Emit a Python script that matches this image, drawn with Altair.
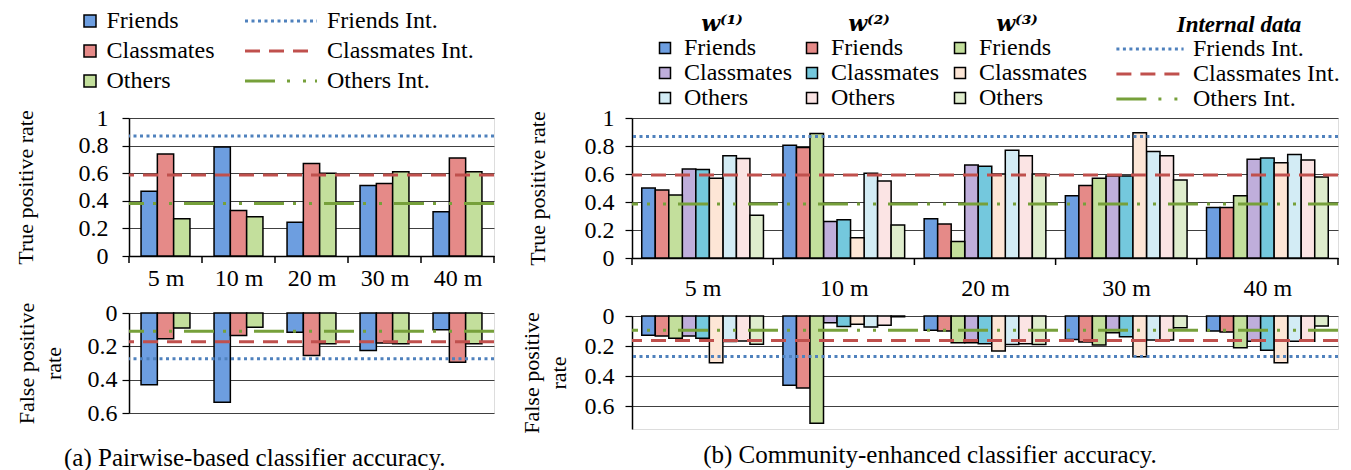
import altair as alt
import pandas as pd

FONT = "Liberation Serif"

distances = ["5 m", "10 m", "20 m", "30 m", "40 m"]
classes = ["Friends", "Classmates", "Others"]
internal_names = ["Friends Int.", "Classmates Int.", "Others Int."]
weights = ["w1", "w2", "w3"]
weight_titles = ["w\u207d\u00b9\u207e", "w\u207d\u00b2\u207e", "w\u207d\u00b3\u207e"]

# (a) Pairwise-based classifier
pw_tpr_friends = [0.47, 0.79, 0.245, 0.51, 0.32]
pw_tpr_classmates = [0.74, 0.33, 0.67, 0.525, 0.71]
pw_tpr_others = [0.27, 0.285, 0.60, 0.61, 0.61]
pw_fpr_friends = [0.43, 0.535, 0.115, 0.225, 0.10]
pw_fpr_classmates = [0.155, 0.135, 0.255, 0.18, 0.295]
pw_fpr_others = [0.09, 0.085, 0.185, 0.185, 0.185]
pw_int_tpr = [0.87, 0.587, 0.38]
pw_int_fpr = [0.275, 0.173, 0.11]

# (b) Community-enhanced classifier
ce_tpr_w1_friends = [0.50, 0.805, 0.28, 0.445, 0.36]
ce_tpr_w2_friends = [0.485, 0.79, 0.243, 0.518, 0.36]
ce_tpr_w3_friends = [0.45, 0.89, 0.117, 0.57, 0.445]
ce_tpr_w1_classmates = [0.635, 0.26, 0.665, 0.585, 0.705]
ce_tpr_w2_classmates = [0.632, 0.273, 0.656, 0.585, 0.715]
ce_tpr_w3_classmates = [0.57, 0.145, 0.60, 0.895, 0.68]
ce_tpr_w1_others = [0.73, 0.605, 0.77, 0.76, 0.74]
ce_tpr_w2_others = [0.71, 0.55, 0.73, 0.73, 0.70]
ce_tpr_w3_others = [0.305, 0.236, 0.60, 0.557, 0.578]

ce_fpr_w1_friends = [0.128, 0.46, 0.095, 0.156, 0.10]
ce_fpr_w2_friends = [0.133, 0.478, 0.10, 0.173, 0.107]
ce_fpr_w3_friends = [0.148, 0.712, 0.177, 0.193, 0.21]
ce_fpr_w1_classmates = [0.133, 0.044, 0.178, 0.111, 0.167]
ce_fpr_w2_classmates = [0.148, 0.07, 0.184, 0.138, 0.227]
ce_fpr_w3_classmates = [0.31, 0.055, 0.233, 0.27, 0.31]
ce_fpr_w1_others = [0.17, 0.073, 0.189, 0.16, 0.167]
ce_fpr_w2_others = [0.166, 0.062, 0.184, 0.16, 0.167]
ce_fpr_w3_others = [0.188, 0.005, 0.189, 0.078, 0.067]
ce_int_tpr = [0.867, 0.592, 0.386]
ce_int_fpr = [0.268, 0.162, 0.094]

# colours
pw_fills = ["#6d9ee0", "#e58a88", "#c3df9c"]
w_fills = {
    "w1": ["#6d9ee0", "#bfaedb", "#d3ecf5"],
    "w2": ["#e58a88", "#74c8dd", "#fbe4e4"],
    "w3": ["#c3df9c", "#fde6d6", "#dfedcd"],
}
line_colors = ["#4f81bd", "#c0504d", "#76a03a"]
line_dashes = [[3, 3.5], [15, 9], [30, 12, 3, 13, 3, 9]]

# ---------- data frames ----------
pw_tpr_lists = [pw_tpr_friends, pw_tpr_classmates, pw_tpr_others]
pw_fpr_lists = [pw_fpr_friends, pw_fpr_classmates, pw_fpr_others]
pw_rows = []
for i, d in enumerate(distances):
    for c, t, f in zip(classes, pw_tpr_lists, pw_fpr_lists):
        pw_rows.append({"dist": d, "cls": c, "tpr": t[i], "fpr": f[i]})
pw_df = pd.DataFrame(pw_rows)

ce_tpr_lists = {
    ("w1", "Friends"): ce_tpr_w1_friends, ("w2", "Friends"): ce_tpr_w2_friends,
    ("w3", "Friends"): ce_tpr_w3_friends, ("w1", "Classmates"): ce_tpr_w1_classmates,
    ("w2", "Classmates"): ce_tpr_w2_classmates, ("w3", "Classmates"): ce_tpr_w3_classmates,
    ("w1", "Others"): ce_tpr_w1_others, ("w2", "Others"): ce_tpr_w2_others,
    ("w3", "Others"): ce_tpr_w3_others,
}
ce_fpr_lists = {
    ("w1", "Friends"): ce_fpr_w1_friends, ("w2", "Friends"): ce_fpr_w2_friends,
    ("w3", "Friends"): ce_fpr_w3_friends, ("w1", "Classmates"): ce_fpr_w1_classmates,
    ("w2", "Classmates"): ce_fpr_w2_classmates, ("w3", "Classmates"): ce_fpr_w3_classmates,
    ("w1", "Others"): ce_fpr_w1_others, ("w2", "Others"): ce_fpr_w2_others,
    ("w3", "Others"): ce_fpr_w3_others,
}
series_order = [f"{c} {w}" for c in classes for w in weights]
ce_rows = []
for i, d in enumerate(distances):
    for c in classes:
        for w in weights:
            ce_rows.append({"dist": d, "cls": c, "w": w, "series": f"{c} {w}",
                            "tpr": ce_tpr_lists[(w, c)][i], "fpr": ce_fpr_lists[(w, c)][i]})
ce_df = pd.DataFrame(ce_rows)

pw_int_df = pd.DataFrame({"name": internal_names, "tpr": pw_int_tpr, "fpr": pw_int_fpr})
ce_int_df = pd.DataFrame({"name": internal_names, "tpr": ce_int_tpr, "fpr": ce_int_fpr})
dist_df = pd.DataFrame({"dist": distances})

# ---------- layout constants ----------
PW_W, PW_TH, PW_FH = 365, 138, 100
CE_W, CE_TH, CE_FH = 706, 140, 113
PW_PAD, CE_PAD = 0.33, 0.138
PW_STEP = PW_W / len(distances)
CE_STEP = CE_W / len(distances)
PW_BAND = PW_STEP * (1 - PW_PAD)
CE_BAND = CE_STEP * (1 - CE_PAD)
TICK = 7


# ---------- helpers ----------
def x_axis_tpr(pad):
    return alt.Axis(title=None, labelAngle=0, labelFont=FONT, labelFontSize=24,
                    labelColor="black", labelPadding=pad, tickBand="extent",
                    tickSize=TICK, ticks=True, tickOpacity=0, domainColor="black",
                    domainWidth=1.5, grid=False, labelFlush=False)


def y_axis(title, values, label_pad, title_pad):
    return alt.Axis(title=title, values=values, format="~g", grid=True, gridColor="#404040",
                    gridWidth=1, tickSize=7, tickColor="black", tickWidth=1.2,
                    domainColor="black", domainWidth=1.5, labelFont=FONT, labelFontSize=24,
                    labelColor="black", labelPadding=label_pad, labelOverlap=False,
                    titleFont=FONT, titleFontSize=22, titleFontWeight="normal",
                    titleColor="black", titlePadding=title_pad, titleLineHeight=27)


def x_scale(pad):
    return alt.Scale(domain=distances, paddingInner=pad, paddingOuter=pad / 2)


def x_enc(pad, axis):
    return alt.X("dist:N", sort=distances, scale=x_scale(pad), axis=axis)


def offset_enc(field, domain, band):
    return alt.XOffset(f"{field}:N", sort=domain,
                       scale=alt.Scale(domain=domain, range=[0, band],
                                       paddingInner=0, paddingOuter=0))


def boundary_ticks(pad, step, height, axis):
    # category-separator ticks below the x axis (Excel style)
    half_gap = pad * step / 2
    starts = alt.Chart(dist_df).mark_rule(color="black", strokeWidth=1.5, xOffset=-half_gap).encode(
        x=alt.X("dist:N", sort=distances, scale=x_scale(pad), axis=axis, bandPosition=0),
        y=alt.value(height), y2=alt.value(height + TICK),
    )
    end = alt.Chart(dist_df.tail(1)).mark_rule(color="black", strokeWidth=1.5, xOffset=half_gap).encode(
        x=alt.X("dist:N", sort=distances, scale=x_scale(pad), axis=axis, bandPosition=1),
        y=alt.value(height), y2=alt.value(height + TICK),
    )
    return [starts, end]


def bar_legend(x, y, title=None, size=144, offset=4.5, title_font=FONT):
    kw = dict(orient="none", legendX=x, legendY=y, direction="vertical", symbolType="square",
              symbolSize=size, symbolStrokeColor="black", symbolStrokeWidth=1.5,
              symbolOpacity=1, labelFont=FONT, labelFontSize=24, labelColor="black",
              labelOffset=offset, labelLimit=300, padding=0)
    if title is None:
        kw.update(title=None, rowPadding=6)
    else:
        kw.update(title=title, titleFont=title_font, titleFontSize=22, titleFontStyle="italic",
                  titleFontWeight="bold", titleColor="black", titleAnchor="middle",
                  titleAlign="center", titlePadding=0, titleLimit=300, rowPadding=1)
    return alt.Legend(**kw)


def line_legend(x, y, path, offset, title=None):
    kw = dict(orient="none", legendX=x, legendY=y, direction="vertical", symbolType=path,
              symbolSize=144, symbolStrokeWidth=3, labelFont=FONT, labelFontSize=24,
              labelColor="black", labelOffset=offset, labelLimit=300, padding=0)
    if title is None:
        kw.update(title=None, rowPadding=6)
    else:
        kw.update(title=title, titleFont=FONT, titleFontSize=23, titleFontStyle="italic",
                  titleFontWeight="bold", titleColor="black", titleAnchor="middle",
                  titleAlign="center", titlePadding=0, titleLimit=300, rowPadding=1)
    return alt.Legend(**kw)


def rule_layer(df, field, yscale, yaxis, legend):
    return alt.Chart(df).mark_rule(strokeWidth=3).encode(
        y=alt.Y(f"{field}:Q", scale=yscale, axis=yaxis),
        stroke=alt.Stroke("name:N", scale=alt.Scale(domain=internal_names, range=line_colors),
                          legend=legend),
        strokeDash=alt.StrokeDash("name:N",
                                  scale=alt.Scale(domain=internal_names, range=line_dashes),
                                  legend=legend),
    )


RES = dict(fill="independent", stroke="independent", strokeDash="independent")
RES_CONCAT = dict(RES, xOffset="independent")

# ---------- (a) ----------
tpr_vals = [0, 0.2, 0.4, 0.6, 0.8, 1]
fpr_vals = [0, 0.2, 0.4, 0.6]

pw_ty = alt.Scale(domain=[0, 1], nice=False)
pw_tax = y_axis("True positive rate", tpr_vals, 14, 41)
pw_xax = x_axis_tpr(3)
pw_bars_t = alt.Chart(pw_df).mark_bar(stroke="black", strokeWidth=1.5).encode(
    x=x_enc(PW_PAD, pw_xax),
    xOffset=offset_enc("cls", classes, PW_BAND),
    y=alt.Y("tpr:Q", scale=pw_ty, axis=pw_tax),
    fill=alt.Fill("cls:N", scale=alt.Scale(domain=classes, range=pw_fills),
                  legend=bar_legend(-51, -109)),
)
pw_tpr_chart = alt.layer(
    pw_bars_t,
    rule_layer(pw_int_df, "tpr", pw_ty, pw_tax, line_legend(140, -109, "M-6,0H6", 34)),
    *boundary_ticks(PW_PAD, PW_STEP, PW_TH, pw_xax),
).properties(width=PW_W, height=PW_TH)

pw_fy = alt.Scale(domain=[0, 0.6], reverse=True, nice=False)
pw_fax = y_axis(["False positive", "rate"], fpr_vals, 5, 22)
pw_bars_f = alt.Chart(pw_df).mark_bar(stroke="black", strokeWidth=1.5).encode(
    x=x_enc(PW_PAD, None),
    xOffset=offset_enc("cls", classes, PW_BAND),
    y=alt.Y("fpr:Q", scale=pw_fy, axis=pw_fax),
    fill=alt.Fill("cls:N", scale=alt.Scale(domain=classes, range=pw_fills), legend=None),
)
pw_fpr_chart = alt.layer(
    pw_bars_f, rule_layer(pw_int_df, "fpr", pw_fy, pw_fax, None)
).properties(width=PW_W, height=PW_FH)

left = alt.vconcat(pw_tpr_chart, pw_fpr_chart, spacing=9).resolve_scale(**RES_CONCAT).properties(
    title=alt.TitleParams("(a) Pairwise-based classifier accuracy.", orient="bottom",
                          anchor="middle", font=FONT, fontSize=25, fontWeight="normal",
                          color="black", offset=20))

# ---------- (b) ----------
ce_ty = alt.Scale(domain=[0, 1], nice=False)
ce_tax = y_axis("True positive rate", tpr_vals, 11, 35)
ce_xax = x_axis_tpr(11)
ce_fy = alt.Scale(domain=[0, 0.75], reverse=True, nice=False)
ce_fax = y_axis(["False positive", "rate"], fpr_vals, 11, 14)
legend_x = [21, 168, 316]


def ce_bars(w, field, yscale, yaxis, xaxis, legend):
    return alt.Chart(ce_df[ce_df["w"] == w]).mark_bar(stroke="black", strokeWidth=1.5).encode(
        x=x_enc(CE_PAD, xaxis),
        xOffset=offset_enc("series", series_order, CE_BAND),
        y=alt.Y(f"{field}:Q", scale=yscale, axis=yaxis),
        fill=alt.Fill("cls:N", scale=alt.Scale(domain=classes, range=w_fills[w]), legend=legend),
    )


ce_tpr_layers = [
    ce_bars(w, "tpr", ce_ty, ce_tax, ce_xax,
            bar_legend(legend_x[k], -104, title=weight_titles[k], size=121, offset=7,
                       title_font="DejaVu Serif"))
    for k, w in enumerate(weights)
]
ce_tpr_chart = alt.layer(
    *ce_tpr_layers,
    rule_layer(ce_int_df, "tpr", ce_ty, ce_tax,
               line_legend(506, -104, "M-5.6,0H5.6", 31, title="Internal data")),
    *boundary_ticks(CE_PAD, CE_STEP, CE_TH, ce_xax),
).resolve_scale(**RES).properties(width=CE_W, height=CE_TH)

ce_fpr_layers = [ce_bars(w, "fpr", ce_fy, ce_fax, None, None) for w in weights]
ce_fpr_chart = alt.layer(
    *ce_fpr_layers, rule_layer(ce_int_df, "fpr", ce_fy, ce_fax, None)
).resolve_scale(**RES).properties(width=CE_W, height=CE_FH)

right = alt.vconcat(ce_tpr_chart, ce_fpr_chart, spacing=2).resolve_scale(**RES_CONCAT).properties(
    title=alt.TitleParams("(b) Community-enhanced classifier accuracy.", orient="bottom",
                          anchor="middle", font=FONT, fontSize=25, fontWeight="normal",
                          color="black", offset=9))

chart = alt.hconcat(left, right, spacing=23).resolve_scale(**RES_CONCAT).properties(
    padding={"left": 5, "top": 0, "right": 0, "bottom": 0},
    background="white",
).configure_view(stroke="black", strokeWidth=1.5).configure(font=FONT)

chart.save("out.html", embed_options={"renderer": "svg", "actions": False})
